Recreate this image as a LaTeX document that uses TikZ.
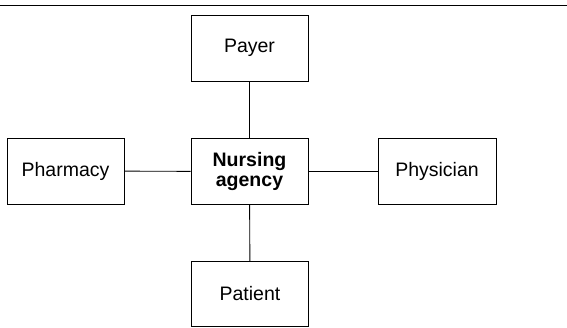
\documentclass[tikz,border=0pt]{standalone}
\usepackage{fontspec}
\setmainfont{Liberation Sans}
\begin{document}
\begin{tikzpicture}[x=1pt,y=-1pt,
  box/.style={draw,line width=0.9pt,rectangle,minimum width=117pt,minimum height=66pt,inner sep=0pt,align=center,font=\fontsize{19.5}{20.5}\selectfont},
  link/.style={line width=0.9pt}]
\useasboundingbox (0,0) rectangle (567,328);
\coordinate (rl) at (0,5);
\coordinate (rr) at (567,5);
\draw[line width=0.8pt] (rl) -- (rr);
\node[box] (payer) at (249.5,48) {Payer};
\node[box] (nurs) at (249.5,171.5) {\bfseries Nursing\\\bfseries agency};
\node[box,minimum height=65pt] (patient) at (250,294) {Patient};
\node[box] (pharm) at (65.5,171) {Pharmacy};
\node[box,minimum width=118pt] (phys) at (437,171.5) {Physician};
\draw[link] (payer) -- (nurs);
\draw[link] (nurs) -- (patient);
\draw[link] (pharm) -- (nurs);
\draw[link] (nurs) -- (phys);
\end{tikzpicture}
\end{document}
